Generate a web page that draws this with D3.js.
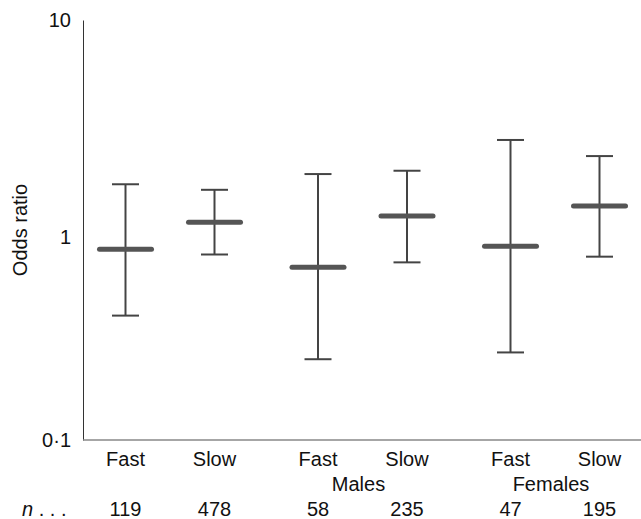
<!DOCTYPE html>
<html>
<head>
<meta charset="utf-8">
<script src="https://cdn.jsdelivr.net/npm/d3@7"></script>
<style>
  body { margin: 0; background: #fff; }
  text { font-family: "Liberation Sans", Arial, sans-serif; fill: #111; }
</style>
</head>
<body>
<div id="chart"></div>
<script>
// groups along the x axis, first one is the whole sample (no label)
const groups = ["All", "Males", "Females"];
const groupLabels = ["", "Males", "Females"];
const speeds = ["Fast", "Slow"];

// odds ratios with 95% CI, one per group x speed
const oddsRatio = [0.87, 1.17, 0.71, 1.25, 0.90, 1.39];
const ciLow    = [0.41, 0.82, 0.25, 0.75, 0.27, 0.80];
const ciHigh   = [1.75, 1.65, 1.95, 2.02, 2.80, 2.36];
const counts   = [119, 478, 58, 235, 47, 195];

const yTicks = [0.1, 1, 10];

const width = 641, height = 519;

const svg = d3.select("#chart")
  .append("svg")
    .attr("width", width)
    .attr("height", height);

// the decades are not spaced quite evenly in the original, so piecewise
const y = d3.scaleLog()
  .domain([0.1, 1, 10])
  .range([440, 237, 20]);

const xGroup = d3.scalePoint()
  .domain(groups)
  .range([170, 555]);

const xSpeed = d3.scalePoint()
  .domain(speeds)
  .range([-44.5, 44.5]);

const rows = [];
groups.forEach(function (g, gi) {
  speeds.forEach(function (s, si) {
    const i = gi * speeds.length + si;
    rows.push({
      group: g,
      speed: s,
      or: oddsRatio[i],
      lo: ciLow[i],
      hi: ciHigh[i],
      n: counts[i]
    });
  });
});

function xPos(d) { return xGroup(d.group) + xSpeed(d.speed); }

// y axis
svg.append("g")
  .attr("transform", "translate(83,0)")
  .call(d3.axisLeft(y)
    .tickValues(yTicks)
    .tickSize(0)
    .tickPadding(12)
    .tickFormat(function (d) { return d === 0.1 ? "0\u00b71" : String(d); }))
  .call(function (g) {
    g.select(".domain").attr("stroke", "#333").attr("stroke-width", 1);
    g.selectAll("text").attr("font-size", 20).attr("font-family", "Liberation Sans, Arial, sans-serif").attr("fill", "#111");
  });

// x axis line
svg.append("line")
  .attr("x1", 83)
  .attr("x2", width)
  .attr("y1", y(0.1))
  .attr("y2", y(0.1))
  .attr("stroke", "#888")
  .attr("stroke-width", 1.5);

svg.append("text")
  .attr("transform", "translate(27," + ((y(10) + y(0.1)) / 2) + ") rotate(-90)")
  .attr("text-anchor", "middle")
  .attr("font-size", 20)
  .text("Odds ratio");

const bars = svg.append("g")
  .selectAll("g")
  .data(rows)
  .enter()
  .append("g");

// whisker
bars.append("line")
  .attr("x1", xPos).attr("x2", xPos)
  .attr("y1", function (d) { return y(d.lo); })
  .attr("y2", function (d) { return y(d.hi); })
  .attr("stroke", "#444")
  .attr("stroke-width", 2);

// caps
[["lo"], ["hi"]].forEach(function (k) {
  bars.append("line")
    .attr("x1", function (d) { return xPos(d) - 13.5; })
    .attr("x2", function (d) { return xPos(d) + 13.5; })
    .attr("y1", function (d) { return y(d[k[0]]); })
    .attr("y2", function (d) { return y(d[k[0]]); })
    .attr("stroke", "#444")
    .attr("stroke-width", 2);
});

// point estimate
bars.append("line")
  .attr("x1", function (d) { return xPos(d) - 26; })
  .attr("x2", function (d) { return xPos(d) + 26; })
  .attr("y1", function (d) { return y(d.or); })
  .attr("y2", function (d) { return y(d.or); })
  .attr("stroke", "#555")
  .attr("stroke-width", 5)
  .attr("stroke-linecap", "round");

// category labels
svg.append("g")
  .selectAll("text")
  .data(rows)
  .enter()
  .append("text")
    .attr("x", xPos)
    .attr("y", 466)
    .attr("text-anchor", "middle")
    .attr("font-size", 20)
    .text(function (d) { return d.speed; });

svg.append("g")
  .selectAll("text")
  .data(groups)
  .enter()
  .append("text")
    .attr("x", function (d) { return xGroup(d) - 4; })
    .attr("y", 491)
    .attr("text-anchor", "middle")
    .attr("font-size", 20)
    .text(function (d, i) { return groupLabels[i]; });

svg.append("g")
  .selectAll("text")
  .data(rows)
  .enter()
  .append("text")
    .attr("x", xPos)
    .attr("y", 516)
    .attr("text-anchor", "middle")
    .attr("font-size", 20)
    .text(function (d) { return d.n; });

const nLabel = svg.append("text")
  .attr("x", 22)
  .attr("y", 516)
  .attr("font-size", 20);
nLabel.append("tspan").attr("font-style", "italic").text("n");
nLabel.append("tspan").text(" . . .");
</script>
</body>
</html>
